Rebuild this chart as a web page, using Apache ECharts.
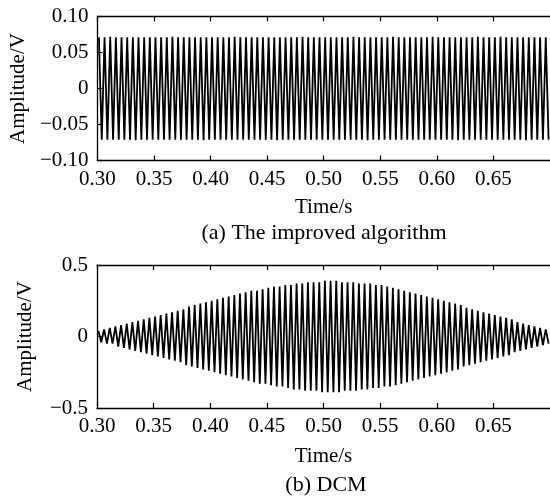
<!DOCTYPE html>
<html>
<head>
<meta charset="utf-8">
<script src="https://cdn.jsdelivr.net/npm/echarts@6/dist/echarts.min.js"></script>
<style>
  html, body { margin: 0; padding: 0; background: #fff; }
  #chart { width: 550px; height: 499px; }
</style>
</head>
<body>
<div id="chart"></div>
<script>
// Time base: one value per half cycle of the 200 Hz signal
const tFirst = 0.30125;
const halfPeriod = 0.0025;

// Axis ticks
const timeTicks = { min: 0.30, max: 0.70, interval: 0.05 };
const ampTicksA = { min: -0.10, max: 0.10, interval: 0.05 };
const ampTicksB = { min: -0.5, max: 0.5, interval: 0.5 };

// (a) improved algorithm: successive half-cycle peak values (V)
const improvedPeaks = [
  0.071,-0.071, 0.071,-0.071, 0.072,-0.071, 0.071,-0.071, 0.071,-0.071, 0.071,-0.071, 0.071,-0.072, 0.071,-0.071, 0.071,-0.071, 0.071,-0.071,
  0.071,-0.071, 0.071,-0.071, 0.071,-0.071, 0.072,-0.071, 0.071,-0.071, 0.071,-0.071, 0.071,-0.071, 0.071,-0.071, 0.071,-0.072, 0.071,-0.071,
  0.071,-0.071, 0.071,-0.071, 0.071,-0.071, 0.071,-0.071, 0.072,-0.071, 0.071,-0.071, 0.071,-0.071, 0.071,-0.071, 0.071,-0.071, 0.071,-0.071,
  0.071,-0.071, 0.071,-0.072, 0.071,-0.071, 0.071,-0.071, 0.071,-0.071, 0.071,-0.071, 0.072,-0.071, 0.071,-0.071, 0.071,-0.071, 0.071,-0.071,
  0.071,-0.071, 0.071,-0.071, 0.071,-0.071, 0.071,-0.071, 0.071,-0.071, 0.072,-0.071, 0.071,-0.071, 0.071,-0.072, 0.071,-0.071, 0.071,-0.071,
  0.071,-0.071, 0.071,-0.071, 0.072,-0.071, 0.071,-0.071, 0.071,-0.071, 0.071,-0.071, 0.071,-0.071, 0.071,-0.071, 0.071,-0.071, 0.072,-0.071,
  0.071,-0.071, 0.071,-0.071, 0.071,-0.071, 0.071,-0.072, 0.071,-0.071, 0.071,-0.071, 0.071,-0.071, 0.072,-0.071, 0.071,-0.071, 0.071,-0.071,
  0.071,-0.071, 0.072,-0.071, 0.071,-0.071, 0.071,-0.071, 0.071,-0.071, 0.071,-0.072, 0.071,-0.071, 0.071,-0.071, 0.071,-0.071, 0.071,-0.071
];

// (b) DCM: successive half-cycle peak values (V)
const dcmPeaks = [
  0.04,-0.04, 0.05,-0.05, 0.06,-0.05, 0.07,-0.07, 0.08,-0.08, 0.09,-0.09, 0.10,-0.10, 0.11,-0.11, 0.12,-0.12, 0.13,-0.13,
  0.14,-0.14, 0.15,-0.15, 0.16,-0.16, 0.17,-0.17, 0.18,-0.18, 0.19,-0.20, 0.21,-0.21, 0.22,-0.22, 0.23,-0.23, 0.24,-0.24,
  0.25,-0.25, 0.26,-0.26, 0.27,-0.27, 0.28,-0.28, 0.29,-0.29, 0.30,-0.30, 0.31,-0.31, 0.32,-0.32, 0.32,-0.33, 0.33,-0.33,
  0.34,-0.34, 0.35,-0.35, 0.35,-0.35, 0.36,-0.36, 0.36,-0.37, 0.37,-0.37, 0.37,-0.38, 0.38,-0.38, 0.38,-0.38, 0.38,-0.39,
  0.39,-0.39, 0.39,-0.39, 0.39,-0.39, 0.38,-0.38, 0.38,-0.38, 0.38,-0.38, 0.37,-0.37, 0.37,-0.37, 0.37,-0.36, 0.36,-0.36,
  0.36,-0.35, 0.35,-0.35, 0.34,-0.34, 0.33,-0.33, 0.32,-0.32, 0.31,-0.31, 0.30,-0.30, 0.29,-0.29, 0.28,-0.28, 0.27,-0.27,
  0.26,-0.26, 0.25,-0.25, 0.24,-0.24, 0.23,-0.23, 0.22,-0.21, 0.20,-0.20, 0.19,-0.19, 0.18,-0.18, 0.17,-0.17, 0.16,-0.16,
  0.15,-0.15, 0.14,-0.14, 0.13,-0.13, 0.12,-0.11, 0.10,-0.10, 0.09,-0.09, 0.08,-0.08, 0.07,-0.07, 0.06,-0.06, 0.05,-0.05
];

const FONT = 'Liberation Serif';
const FS = 21;
const CAP_FS = 22;

function toPairs(peaks) {
  return peaks.map((v, i) => [tFirst + i * halfPeriod, v]);
}

function ampLabel(v, digits) {
  if (Math.abs(v) < 1e-9) return '0';
  return (v < 0 ? '\u2212' : '') + Math.abs(v).toFixed(digits);
}

const lineAxis = { show: true, onZero: false, lineStyle: { color: '#000', width: 1.3 } };
const inTicks = { show: true, inside: true, length: 5, lineStyle: { color: '#000', width: 1.2 } };
const labelStyle = { color: '#000', fontFamily: FONT, fontSize: FS };

function timeAxis(gridIndex, nameGap) {
  return {
    type: 'value', gridIndex, position: 'bottom',
    min: timeTicks.min, max: timeTicks.max, interval: timeTicks.interval,
    name: 'Time/s', nameLocation: 'middle', nameGap,
    nameTextStyle: { color: '#000', fontFamily: FONT, fontSize: FS },
    axisLine: lineAxis, axisTick: inTicks, splitLine: { show: false },
    axisLabel: Object.assign({ margin: 8, showMaxLabel: false,
      formatter: v => v.toFixed(2) }, labelStyle)
  };
}
function topAxis(gridIndex) {
  return {
    type: 'value', gridIndex, position: 'top',
    min: timeTicks.min, max: timeTicks.max, interval: timeTicks.interval,
    axisLine: lineAxis, axisTick: inTicks, splitLine: { show: false },
    axisLabel: { show: false }
  };
}
function ampAxis(gridIndex, ticks, digits) {
  return {
    type: 'value', gridIndex,
    min: ticks.min, max: ticks.max, interval: ticks.interval,
    name: 'Amplitude/V', nameLocation: 'middle', nameGap: 61, nameRotate: 90,
    nameTextStyle: { color: '#000', fontFamily: FONT, fontSize: FS },
    axisLine: lineAxis, axisTick: inTicks, splitLine: { show: false },
    axisLabel: Object.assign({ margin: 9, formatter: v => ampLabel(v, digits) }, labelStyle)
  };
}

const chart = echarts.init(document.getElementById('chart'), null, { renderer: 'canvas' });
chart.setOption({
  animation: false,
  backgroundColor: '#fff',
  grid: [
    { left: 97, right: -4, top: 16.5, height: 144 },
    { left: 97, right: -4, top: 265, height: 143 }
  ],
  xAxis: [timeAxis(0, 36), timeAxis(1, 38), topAxis(0), topAxis(1)],
  yAxis: [ampAxis(0, ampTicksA, 2), ampAxis(1, ampTicksB, 1)],
  graphic: [
    { type: 'text', x: 324, top: 222,
      style: { text: '(a) The improved algorithm', fill: '#000', font: CAP_FS + 'px "' + FONT + '"', textAlign: 'center' } },
    { type: 'text', x: 326, top: 474,
      style: { text: '(b) DCM', fill: '#000', font: CAP_FS + 'px "' + FONT + '"', textAlign: 'center' } }
  ],
  series: [
    { type: 'line', xAxisIndex: 0, yAxisIndex: 0, data: toPairs(improvedPeaks),
      showSymbol: false, lineStyle: { color: '#000', width: 1.8 } },
    { type: 'line', xAxisIndex: 1, yAxisIndex: 1, data: toPairs(dcmPeaks),
      showSymbol: false, lineStyle: { color: '#000', width: 1.8 } }
  ]
});
</script>
</body>
</html>
